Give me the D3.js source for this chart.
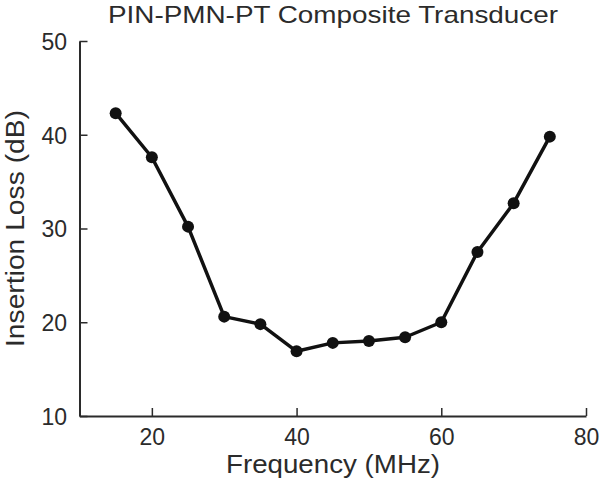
<!DOCTYPE html>
<html><head><meta charset="utf-8">
<script src="https://cdn.jsdelivr.net/npm/d3@7"></script>
<style>body{margin:0;background:#fff}svg{display:block}text{font-family:"Liberation Sans",Arial,sans-serif;fill:#2b2b2b}</style>
</head><body>
<script>
const frequency = [15,20,25,30,35,40,45,50,55,60,65,70,75];
const insertionLoss = [42.3,37.6,30.2,20.6,19.8,16.9,17.8,18.0,18.4,20.0,27.5,32.7,39.8];
const xTicks = [20,40,60,80];
const yTicks = [10,20,30,40,50];
const title = "PIN-PMN-PT Composite Transducer";
const xLabel = "Frequency (MHz)";
const yLabel = "Insertion Loss (dB)";

const W=600,H=483;
const svg=d3.select("body").append("svg").attr("width",W).attr("height",H);
const x=d3.scaleLinear().domain([10,80]).range([79.5,586]);
const y=d3.scaleLinear().domain([10,50]).range([416,41]);
const axCol="#2b2b2b";

const gx=svg.append("g").attr("transform","translate(0,416)")
  .call(d3.axisBottom(x).tickValues(xTicks).tickSizeInner(-8).tickSizeOuter(0).tickPadding(14));
const gy=svg.append("g").attr("transform","translate(79.5,0)")
  .call(d3.axisLeft(y).tickValues(yTicks).tickSizeInner(-8).tickSizeOuter(0).tickPadding(12));
[gx,gy].forEach(g=>{
  g.select(".domain").attr("stroke",axCol).attr("stroke-width",2);
  g.selectAll(".tick line").attr("stroke",axCol).attr("stroke-width",1.5);
  g.selectAll(".tick text").attr("font-size",23).attr("fill",axCol).attr("font-family","Liberation Sans, Arial, sans-serif");
});
gx.selectAll(".tick text").attr("dy",null).attr("y",29);
gy.selectAll(".tick text").attr("x",-12.5).attr("dy","0.36em");

svg.append("path").datum(frequency.map((f,i)=>[f,insertionLoss[i]]))
  .attr("fill","none").attr("stroke","#111").attr("stroke-width",3.5).attr("stroke-linejoin","round")
  .attr("d",d3.line().x(d=>x(d[0])).y(d=>y(d[1])));
svg.selectAll("circle.pt").data(frequency).enter().append("circle")
  .attr("cx",d=>x(d)).attr("cy",(d,i)=>y(insertionLoss[i])).attr("r",6).attr("fill","#111");

svg.append("text").attr("x",333).attr("y",23).attr("text-anchor","middle").attr("font-size",24)
  .attr("textLength",450).attr("lengthAdjust","spacingAndGlyphs").text(title);
svg.append("text").attr("x",333).attr("y",473).attr("text-anchor","middle").attr("font-size",26)
  .attr("textLength",214).attr("lengthAdjust","spacingAndGlyphs").text(xLabel);
svg.append("text").attr("transform","translate(23.5,228.5) rotate(-90)").attr("text-anchor","middle").attr("font-size",26)
  .attr("textLength",237).attr("lengthAdjust","spacingAndGlyphs").text(yLabel);
</script>
</body></html>
